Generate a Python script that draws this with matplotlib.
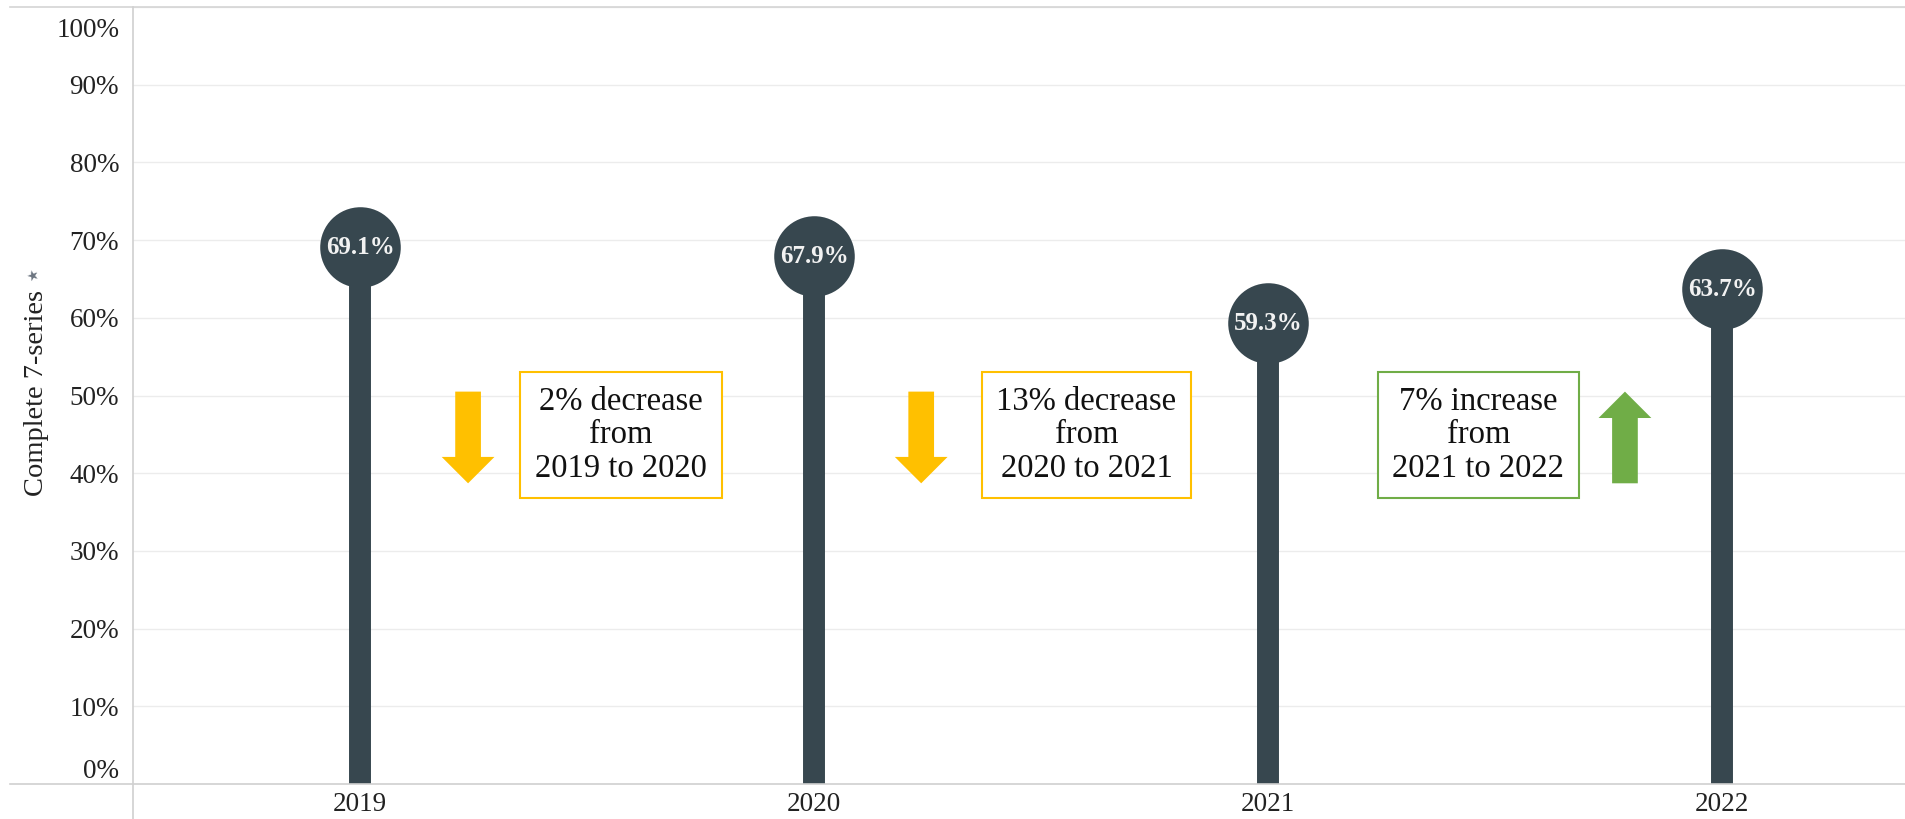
import matplotlib
matplotlib.use("Agg")
import matplotlib.pyplot as plt
from matplotlib.patches import FancyArrowPatch
from matplotlib.lines import Line2D
from matplotlib.transforms import ScaledTranslation

years = ["2019", "2020", "2021", "2022"]
values = [0.691, 0.679, 0.593, 0.637]
value_labels = ["69.1%", "67.9%", "59.3%", "63.7%"]
yticks = [0, 0.1, 0.2, 0.3, 0.4, 0.5, 0.6, 0.7, 0.8, 0.9, 1.0]
ytick_labels = ["0%", "10%", "20%", "30%", "40%", "50%", "60%", "70%", "80%", "90%", "100%"]

notes = ["2% decrease\nfrom\n2019 to 2020",
         "13% decrease\nfrom\n2020 to 2021",
         "7% increase\nfrom\n2021 to 2022"]
note_x = [0.575, 1.60, 2.463]
note_colors = ["#FFC000", "#FFC000", "#70AD47"]
arrow_x = [0.238, 1.236, 2.786]
arrow_from = [0.505, 0.505, 0.387]
arrow_to = [0.387, 0.387, 0.505]

stem_color = "#37474f"
font = "Liberation Serif"
W, H = 1906, 819

fig = plt.figure(figsize=(W / 100, H / 100), dpi=100)
ax = fig.add_axes([133 / W, 35 / H, (W - 133) / W, 777 / H])
x = list(range(len(years)))

ax.vlines(x, 0, values, color=stem_color, lw=15.8, zorder=3)
ax.scatter(x, values, s=58 ** 2, color=stem_color, zorder=4, linewidths=0)
for xi, v, lab in zip(x, values, value_labels):
    ax.text(xi, v, lab, ha="center", va="center", color="#f2f2f2",
            fontsize=18, fontweight="bold", family=font, zorder=5)

for xi, t, c in zip(note_x, notes, note_colors):
    ax.text(xi, 0.449, t, ha="center", va="center", fontsize=23.5, family=font,
            linespacing=1.12, color="#111111",
            bbox=dict(boxstyle="square,pad=0.45", fc="white", ec=c, lw=1.5))

for xa, y0, y1, c in zip(arrow_x, arrow_from, arrow_to, note_colors):
    ax.add_patch(FancyArrowPatch((xa, y0), (xa, y1), shrinkA=0, shrinkB=0,
                                 arrowstyle="simple,head_length=19,head_width=38,tail_width=18.5",
                                 mutation_scale=1, color=c, lw=0, zorder=3))

ax.set_xlim(-0.5, 3.405)
ax.set_ylim(0, 1.0)
ax.set_xticks(x)
ax.set_xticklabels(years, family=font, fontsize=19.5, color="#222222")
ax.set_yticks(yticks)
ax.set_yticklabels(ytick_labels, family=font, fontsize=19.5, color="#222222")
ax.tick_params(length=0)
ax.tick_params(axis="x", pad=6)
ax.tick_params(axis="y", pad=10)
ax.grid(axis="y", color="#ececec", lw=1)
ax.set_axisbelow(True)
for s in ax.spines.values():
    s.set_visible(False)

labels = ax.get_yticklabels()
labels[0].set_transform(labels[0].get_transform() + ScaledTranslation(0, 0.16, fig.dpi_scale_trans))
labels[-1].set_transform(labels[-1].get_transform() + ScaledTranslation(0, -0.20, fig.dpi_scale_trans))

fig.text(37 / W, 1 - 393 / H, "Complete 7-series", rotation=90, ha="center", va="center",
         fontsize=20.5, family=font, color="#222222")
# small pin mark above the axis title
fig.text(33 / W, 1 - 276 / H, "\u2605", ha="center", va="center", fontsize=10,
         color="#6b7480", rotation=20)

# frame lines like the dashboard
fig.add_artist(Line2D([10 / W, 1], [1 - 7 / H, 1 - 7 / H], color="#d4d4d4", lw=1.2))
fig.add_artist(Line2D([10 / W, 1], [1 - 784 / H, 1 - 784 / H], color="#d0d0d0", lw=1.2))
fig.add_artist(Line2D([133 / W, 133 / W], [0, 1 - 7 / H], color="#d0d0d0", lw=1.2))

fig.savefig("out.png", dpi=100, facecolor="white")
